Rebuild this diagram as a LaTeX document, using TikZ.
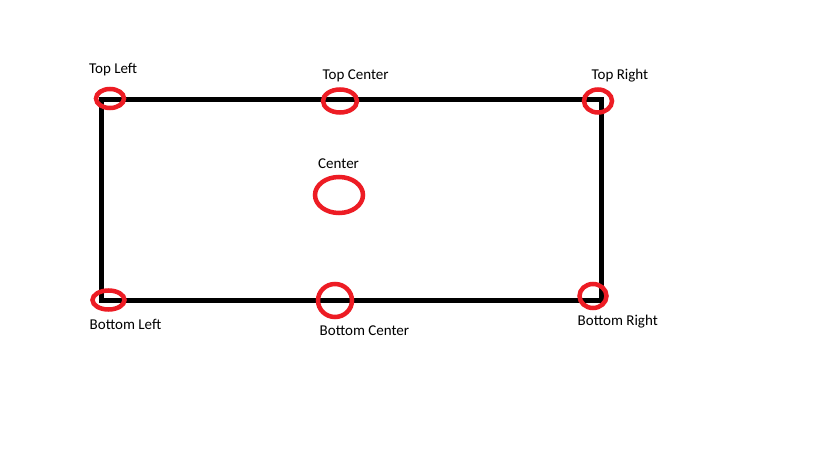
\documentclass[tikz,border=0pt]{standalone}
\usepackage{fontspec}
\setmainfont{Carlito}
\usetikzlibrary{shapes.geometric}
\definecolor{paintred}{RGB}{237,28,36}
\tikzset{
  redring/.style={draw=paintred, line width=4.5pt, ellipse, inner sep=0pt},
  lbl/.style={anchor=base west, inner sep=0pt, font=\fontsize{15pt}{17pt}\selectfont, text=black},
}
\begin{document}
\begin{tikzpicture}[x=1pt,y=-1pt]
\useasboundingbox[fill=white] (0,0) rectangle (819,460);
\node[draw=black, line width=5pt, minimum width=500pt, minimum height=201.5pt, inner sep=0pt, outer sep=0pt] (box) at (351.3,199.9) {};
\node[redring, minimum width=28pt, minimum height=19pt] (tl) at (110,98.5) {};
\node[redring, minimum width=34pt, minimum height=23pt] (tc) at (340,101) {};
\node[redring, minimum width=28pt, minimum height=23pt] (tr) at (598,101) {};
\node[redring, minimum width=48pt, minimum height=36pt] (c) at (339,195) {};
\node[redring, minimum width=32pt, minimum height=19pt] (bl) at (108.5,300) {};
\node[redring, minimum width=34pt, minimum height=33pt] (bc) at (335,300.5) {};
\node[redring, minimum width=27pt, minimum height=24pt] (br) at (593,296) {};
\node[lbl] (ltl) at (89,74) {Top Left};
\node[lbl] (ltc) at (322.5,79) {Top Center};
\node[lbl] (ltr) at (591.5,80) {Top Right};
\node[lbl] (lc) at (318,168) {Center};
\node[lbl] (lbl1) at (89.5,329) {Bottom Left};
\node[lbl] (lbc) at (319.5,335) {Bottom Center};
\node[lbl] (lbr) at (577.5,325) {Bottom Right};
\end{tikzpicture}
\end{document}
